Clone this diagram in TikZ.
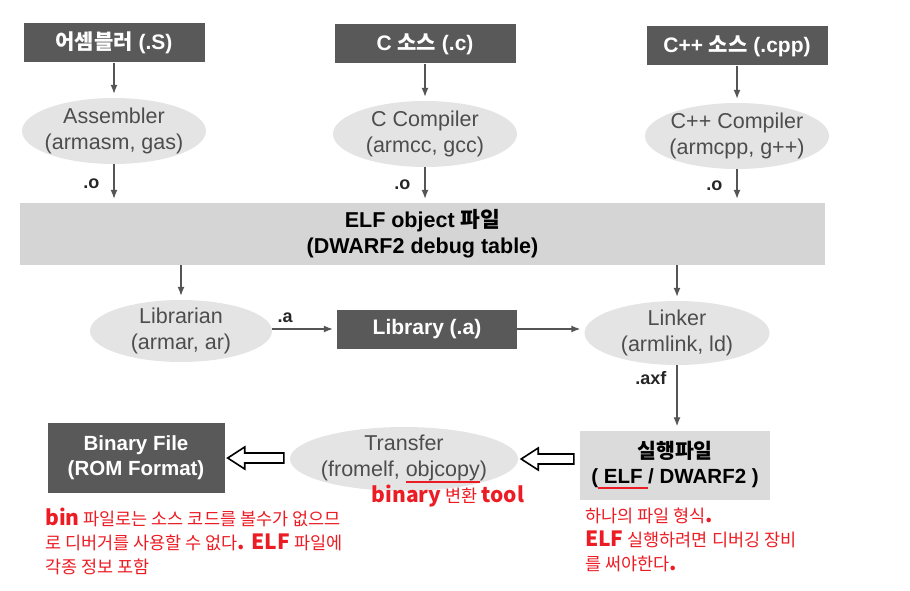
\documentclass[tikz,border=0pt]{standalone}
\usepackage{fontspec}
\setmainfont{Liberation Sans}
\newfontfamily\kr{Noto Sans CJK KR}
\usetikzlibrary{positioning,shapes.geometric,arrows.meta,calc}

\definecolor{dunkel}{HTML}{595959}
\definecolor{hell}{HTML}{D5D5D5}
\definecolor{blase}{HTML}{E4E4E4}
\definecolor{schrift}{HTML}{4D4D4D}
\definecolor{linie}{HTML}{555555}
\definecolor{rot}{HTML}{EC1C24}

\tikzset{
  quelle/.style={fill=dunkel, text=white, font=\fontsize{21}{25}\selectfont\bfseries,
    minimum width=181pt, minimum height=39pt, inner sep=0pt},
  werkzeug/.style={ellipse, fill=blase, text=schrift, font=\fontsize{21.5}{26}\selectfont,
    align=center, inner xsep=-5pt, inner ysep=-2pt, minimum width=184pt, minimum height=66pt},
  balken/.style={fill=hell, font=\fontsize{21.5}{26}\selectfont\bfseries, align=center, inner sep=0pt},
  pfeil/.style={draw=linie, line width=1.3pt, shorten >=4pt, -{Latex[length=9pt,width=7pt]}},
  endung/.style={font=\fontsize{18}{20}\selectfont\bfseries, text=black!85, inner sep=0pt},
  notiz/.style={text=rot, font=\kr\fontsize{17.5}{24}\selectfont, align=left, inner sep=0pt},
}

% dicker hohler Pfeil von #1 nach #2 (nach links)
\newcommand{\hohlpfeil}[2]{%
  \draw[line width=1.6pt, fill=white, line join=miter]
    ($(#1.west |- #2.east)+(-6pt,-5pt)$) -- ($(#2.east)+(20pt,-5pt)$)
    -- ($(#2.east)+(20pt,-11pt)$) -- ($(#2.east)+(3pt,0pt)$)
    -- ($(#2.east)+(20pt,11pt)$) -- ($(#2.east)+(20pt,5pt)$)
    -- ($(#1.west |- #2.east)+(-6pt,5pt)$) -- cycle;}

% rote Unterstreichung
\newcommand{\rotunter}[1]{\setbox0\hbox{#1}\rlap{\color{rot}\rule[-6pt]{\wd0}{1.8pt}}\box0}
\newcommand{\fett}[1]{{\fontsize{21}{24}\selectfont\bfseries #1}}

\begin{document}
\begin{tikzpicture}[x=1pt, y=-1pt]
  \useasboundingbox (0,0) rectangle (910,591);

  % Quellen
  \node[quelle] (asmsrc) at (114,43) {{\kr 어셈블러} (.S)};
  \node[quelle] (csrc) at (425,44) {C {\kr 소스} (.c)};
  \node[quelle] (cppsrc) at (737,46) {C++ {\kr 소스} (.cpp)};

  % Werkzeuge
  \node[werkzeug] (asm) at (114,131) {Assembler\\(armasm, gas)};
  \node[werkzeug] (ccomp) at (425,134) {C Compiler\\(armcc, gcc)};
  \node[werkzeug] (cppcomp) at (737,136) {C++ Compiler\\(armcpp, g++)};

  \node[balken, minimum width=805pt, minimum height=62pt] (elf) at (422.5,234)
    {ELF object {\kr 파일}\\(DWARF2 debug table)};

  \node[werkzeug, minimum width=182pt, minimum height=62pt] (librarian) at (181,331) {Librarian\\(armar, ar)};
  \node[quelle, minimum width=180pt] (library) at (427,329) {Library (.a)};
  \node[werkzeug, minimum width=185pt, minimum height=64pt] (linker) at (677,333) {Linker\\(armlink, ld)};

  \node[balken, fill=hell!85!white, font=\fontsize{20.5}{25}\selectfont\bfseries,
    minimum width=190pt, minimum height=69pt] (exe) at (675,465)
    {{\kr 실행파일}\\(\rotunter{ ELF }/ DWARF2 )};
  \node[werkzeug, minimum width=228pt, minimum height=64pt] (trans) at (404,459)
    {Transfer\\(fromelf, \rotunter{objcopy})};
  \node[quelle, font=\fontsize{20.5}{25}\selectfont\bfseries, align=center,
    minimum width=177pt, minimum height=70pt] (binary) at (136,458) {Binary File\\(ROM Format)};

  % Verbindungen
  \draw[pfeil] (asmsrc) -- (asm);
  \draw[pfeil] (csrc) -- (ccomp);
  \draw[pfeil] (cppsrc) -- (cppcomp);
  \draw[pfeil] (asm) -- node[endung, left=14pt]{.o} (asm |- elf.north);
  \draw[pfeil] (ccomp) -- node[endung, left=14pt]{.o} (ccomp |- elf.north);
  \draw[pfeil] (cppcomp) -- node[endung, left=14pt]{.o} (cppcomp |- elf.north);
  \draw[pfeil] (elf.south -| librarian) -- (librarian);
  \draw[pfeil] (elf.south -| linker) -- (linker);
  \draw[pfeil] (librarian.east |- library.west) -- node[endung, above=6pt, pos=0.2]{.a} (library);
  \draw[pfeil] (library) -- (library -| linker.west);
  \draw[pfeil] (linker) -- node[endung, left=10pt, pos=0.2]{.axf} (linker |- exe.north);

  \hohlpfeil{exe}{trans}
  \hohlpfeil{trans}{binary}

  % Notizen
  \node[notiz, anchor=base] (bintool) at (448,502) {\fett{binary} 변환 \fett{tool}};
  \node[notiz, anchor=north west] (links) at (45,508)
    {\fett{bin} 파일로는 소스 코드를 볼수가 없으므\\
     로 디버거를 사용할 수 없다\fett{. ELF} 파일에\\
     각종 정보 포함};
  \node[notiz, anchor=north west] (rechts) at (585,508)
    {하나의 파일 형식\fett{.}\\
     \fett{ELF} 실행하려면 디버깅 장비\\
     를 써야한다\fett{.}};
\end{tikzpicture}
\end{document}
